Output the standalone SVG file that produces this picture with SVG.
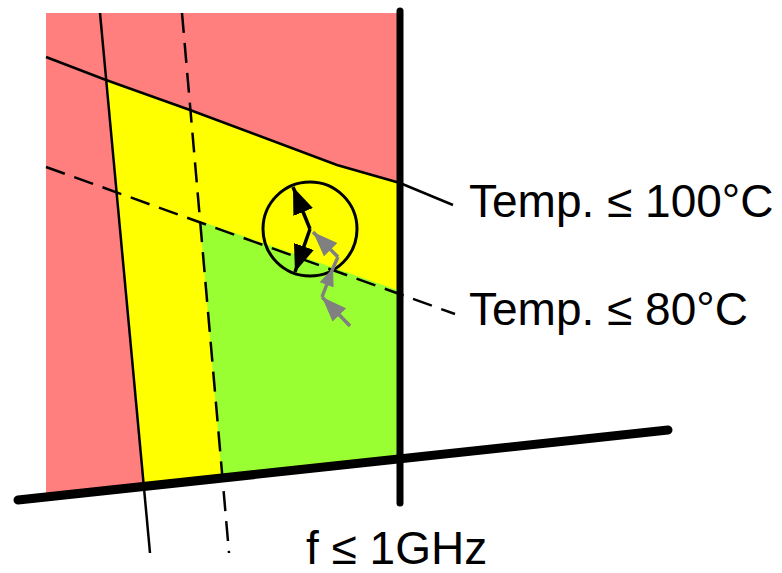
<svg xmlns="http://www.w3.org/2000/svg" width="782" height="573" viewBox="0 0 782 573">
<defs>
<style>
.thin{fill:none;stroke:#000;stroke-width:2.5}
.dash{fill:none;stroke:#000;stroke-width:2.5;stroke-dasharray:20 10}
.thick{fill:none;stroke:#000;stroke-linecap:round}
.lbl{font-family:"Liberation Sans",Arial,sans-serif;font-size:46px;fill:#000}
.blk{fill:none;stroke:#000;stroke-width:3.5}
.gry{fill:none;stroke:#808080;stroke-width:3.5}
</style>
<marker id="hb" viewBox="-27 -11 28 22" refX="0" refY="0" markerWidth="28" markerHeight="22" markerUnits="userSpaceOnUse" orient="auto"><path d="M0,0 L-27,-10.5 L-27,10.5 Z" fill="#000"/></marker>
<marker id="hg" viewBox="-25 -10 26 20" refX="0" refY="0" markerWidth="26" markerHeight="20" markerUnits="userSpaceOnUse" orient="auto"><path d="M0,0 L-25,-9.5 L-25,9.5 Z" fill="#808080"/></marker>
<marker id="hgs" viewBox="-18 -8 19 16" refX="0" refY="0" markerWidth="19" markerHeight="16" markerUnits="userSpaceOnUse" orient="auto"><path d="M0,0 L-18,-7.5 L-18,7.5 Z" fill="#808080"/></marker>
</defs>
<g id="region-red"><polygon points="46,13 400,13 400,459 46,497" fill="#ff7f7f"/></g>
<g id="region-yellow"><polygon points="106,79 190,110 337,165 400,183 400,459 144,486" fill="#ffff00"/></g>
<g id="region-green"><polygon points="200,221 400,291 400,459 222,478" fill="#99ff33"/></g>
<g id="limit-lines">
<polyline class="thin" points="46,57 106,80 190,110 337,165 400,183 453,205"/>
<line class="dash" x1="46" y1="167" x2="455" y2="314"/>
<line class="thin" x1="100" y1="13" x2="150" y2="553"/>
<line class="dash" x1="182" y1="13" x2="229" y2="553"/>
</g>
<g id="axes">
<line class="thick" x1="400" y1="11" x2="400" y2="503" stroke-width="7"/>
<line class="thick" x1="18" y1="500" x2="668" y2="430" stroke-width="9"/>
</g>
<g id="operating-point"><circle cx="310" cy="229" r="47" fill="none" stroke="#000" stroke-width="3"/></g>
<g id="connectors">
<line class="gry" x1="350" y1="326" x2="322" y2="297" marker-end="url(#hg)"/>
<line class="gry" x1="322" y1="297" x2="333" y2="268" marker-end="url(#hgs)"/>
<line class="gry" x1="333" y1="268" x2="338" y2="257"/>
<line class="gry" x1="338" y1="257" x2="313" y2="232" marker-end="url(#hg)"/>
<line class="blk" x1="310" y1="229" x2="293" y2="187" marker-end="url(#hb)"/>
<line class="blk" x1="310" y1="229" x2="295" y2="272" marker-end="url(#hb)"/>
</g>
<g id="labels">
<text class="lbl" x="469" y="217">Temp. ≤ 100°C</text>
<text class="lbl" x="469" y="325">Temp. ≤ 80°C</text>
<text class="lbl" x="306" y="564">f ≤ 1GHz</text>
</g>
</svg>
